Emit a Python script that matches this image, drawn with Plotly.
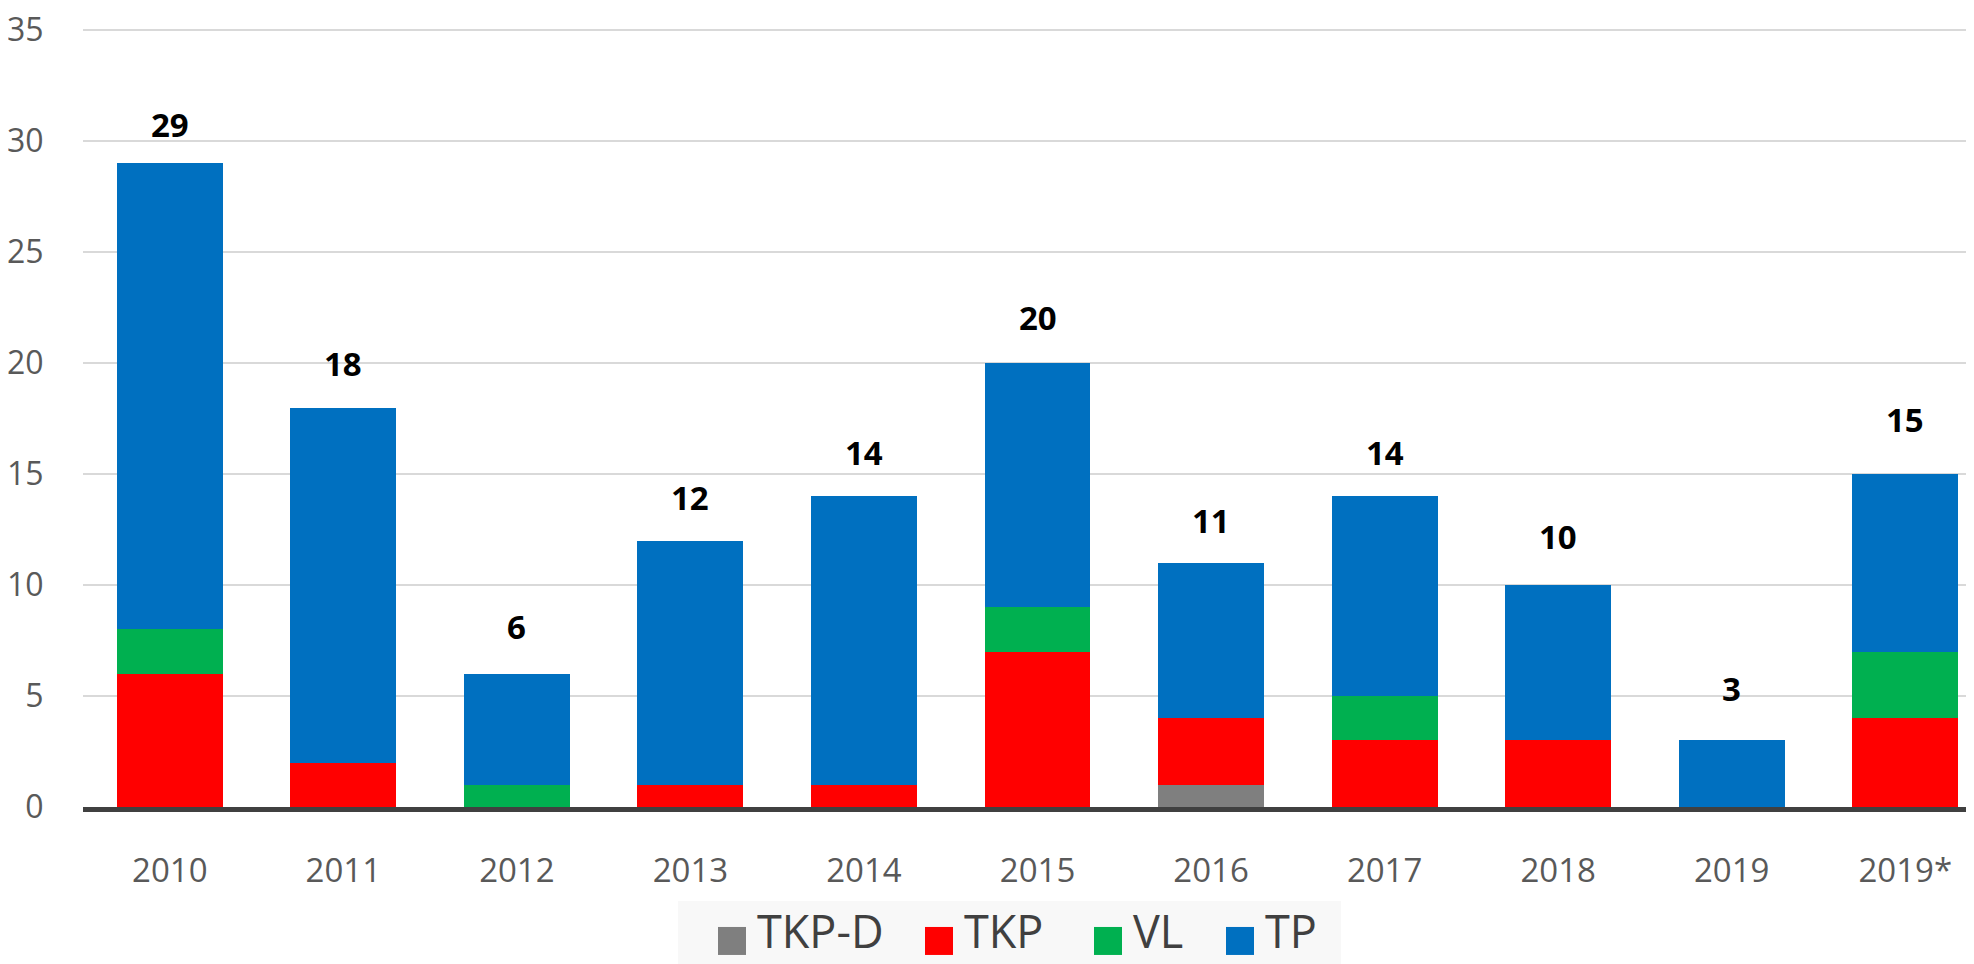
import plotly.graph_objects as go

categories = ["2010", "2011", "2012", "2013", "2014", "2015", "2016", "2017", "2018", "2019", "2019*"]
tkp_d = [0, 0, 0, 0, 0, 0, 1, 0, 0, 0, 0]
tkp = [6, 2, 0, 1, 1, 7, 3, 3, 3, 0, 4]
vl = [2, 0, 1, 0, 0, 2, 0, 2, 0, 0, 3]
tp = [21, 16, 5, 11, 13, 11, 7, 9, 7, 3, 8]
series_names = ["TKP-D", "TKP", "VL", "TP"]
series_colors = ["#7f7f7f", "#ff0000", "#00b050", "#0070c0"]
totals = [a + b + c + d for a, b, c, d in zip(tkp_d, tkp, vl, tp)]

# layout (page is offset by the browser's 8px body margin)
W, H = 1966, 956
YTOP = 35.1
K = 777 / 35.0                      # px per unit
ml, mr, mb = 75, 0, 157
PH = YTOP * K
mt = H - mb - PH
PX0, PY0, PW = 83, 807, W - ml - mr  # plot area in page pixels


def px(x):
    return (x - PX0) / PW


def py(y):
    return (PY0 - y) / PH


label_shift = [39, 44, 47, 43, 44, 46, 42, 44, 49, 52, 55]

fig = go.Figure()
for name, vals, col in zip(series_names, [tkp_d, tkp, vl, tp], series_colors):
    fig.add_trace(go.Bar(x=categories, y=vals, name=name,
                         marker=dict(color=col, line=dict(width=0)), showlegend=False))

for i, t in enumerate(totals):
    fig.add_annotation(x=i, y=t, text=f"<b>{t}</b>", showarrow=False, yanchor="middle",
                       yshift=label_shift[i], xref="x", yref="y",
                       font=dict(family="Open Sans", size=33, color="#000000"))

# legend (drawn with shapes + text)
shapes = [dict(type="rect", xref="paper", yref="paper", x0=px(678), x1=px(1341), y0=py(975), y1=py(901),
               fillcolor="#f8f8f8", line=dict(width=0), layer="below")]
sq_left = [718, 925, 1094, 1226]
for name, col, sx in zip(series_names, series_colors, sq_left):
    shapes.append(dict(type="rect", xref="paper", yref="paper", x0=px(sx), x1=px(sx + 28),
                       y0=py(955), y1=py(927), fillcolor=col, line=dict(width=0)))
    fig.add_annotation(x=px(sx + 37), y=py(963), xref="paper", yref="paper", text=name,
                       showarrow=False, xanchor="left", yanchor="bottom",
                       font=dict(family="Open Sans", size=45, color="#404040"))

fig.update_layout(
    width=W, height=H,
    margin=dict(l=ml, r=mr, t=mt, b=mb),
    barmode="stack", bargap=0.39,
    plot_bgcolor="white", paper_bgcolor="white",
    font=dict(family="Open Sans", color="#595959"),
    shapes=shapes,
    xaxis=dict(type="category", range=[-0.5, 10.396], showline=True, linecolor="#404040", linewidth=5,
               ticks="outside", ticklen=30, tickcolor="rgba(0,0,0,0)",
               tickfont=dict(size=33, color="#595959"), showgrid=False, zeroline=False),
    yaxis=dict(range=[0, YTOP], tickvals=[0, 5, 10, 15, 20, 25, 30, 35], showgrid=True,
               gridcolor="#d9d9d9", gridwidth=2, ticklabeloverflow="allow",
               ticks="outside", ticklen=32, tickcolor="rgba(0,0,0,0)",
               tickfont=dict(size=32, color="#595959"), zeroline=False, showline=False),
    showlegend=False,
)
fig.write_html("out.html")
